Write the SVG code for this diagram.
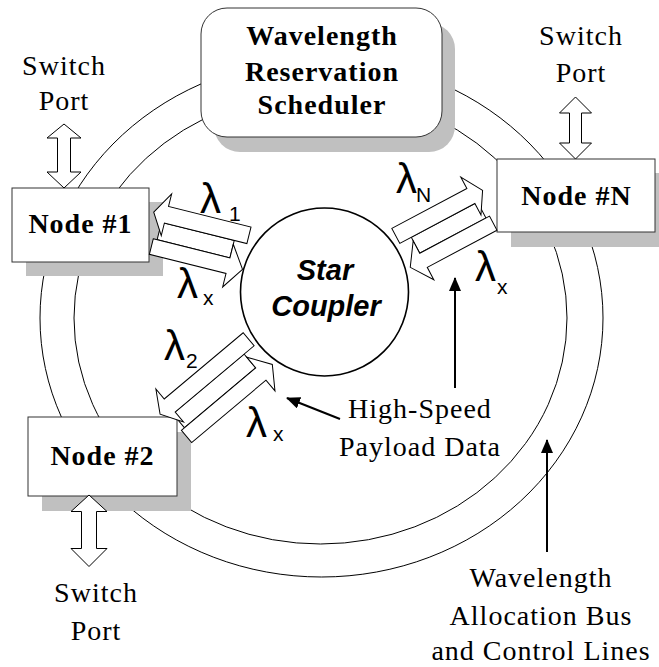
<svg xmlns="http://www.w3.org/2000/svg" width="659" height="667" viewBox="0 0 659 667">
  <style>
    .ring { fill: none; stroke: #000; stroke-width: 1; }
    .shadow { fill: #c0c0c0; }
    .box { fill: #fff; stroke: #333; stroke-width: 1; }
    .blk { fill: #fff; stroke: #000; stroke-width: 1; stroke-linejoin: miter; }
    .txt { font-family: "Liberation Serif", "Times New Roman", serif; font-size: 28px; letter-spacing: 1px; fill: #000; text-anchor: middle; }
    .bold { font-weight: bold; }
    .lam { font-family: "Liberation Sans", Arial, sans-serif; font-size: 42px; fill: #000; }
    .sub { font-family: "Liberation Sans", Arial, sans-serif; font-size: 21px; fill: #000; }
    .ptr { stroke: #000; stroke-width: 2; fill: none; marker-end: url(#tri); }
  </style>
  <defs>
    <marker id="tri" viewBox="0 0 14 12" refX="13" refY="6" markerWidth="14" markerHeight="12" markerUnits="userSpaceOnUse" orient="auto">
      <path d="M0,0 L14,6 L0,12 z" fill="#000"/>
    </marker>
  </defs>

  <!-- allocation bus rings -->
  <g id="bus">
    <ellipse class="ring" cx="321.5" cy="318" rx="281.5" ry="259"/>
    <ellipse class="ring" cx="320.5" cy="318" rx="246.5" ry="226"/>
  </g>

  <!-- scheduler -->
  <g id="scheduler">
    <rect class="shadow" x="214" y="23" width="241" height="129" rx="26"/>
    <rect class="box" x="201" y="8" width="241" height="129" rx="26"/>
    <text class="txt bold" x="322" y="45">Wavelength</text>
    <text class="txt bold" x="322" y="81">Reservation</text>
    <text class="txt bold" x="322" y="114">Scheduler</text>
  </g>

  <!-- nodes -->
  <g id="node1">
    <rect class="shadow" x="26" y="202" width="137" height="74"/>
    <rect class="box" x="12" y="188" width="137" height="74"/>
    <text class="txt bold" x="80.5" y="233">Node #1</text>
  </g>
  <g id="nodeN">
    <rect class="shadow" x="511" y="173" width="158" height="74"/>
    <rect class="box" x="497" y="159" width="158" height="73"/>
    <text class="txt bold" x="576.5" y="205">Node #N</text>
  </g>
  <g id="node2">
    <rect class="shadow" x="42" y="432" width="149" height="79"/>
    <rect class="box" x="28" y="417" width="149" height="79"/>
    <text class="txt bold" x="102.5" y="465">Node #2</text>
  </g>

  <!-- star coupler -->
  <g id="coupler">
    <circle cx="324.5" cy="292" r="84" fill="#fff" stroke="#000" stroke-width="1.6"/>
    <text x="325" y="280" text-anchor="middle" font-family="Liberation Sans, Arial, sans-serif" font-size="29" font-weight="bold" font-style="italic">Star</text>
    <text x="326" y="316" text-anchor="middle" font-family="Liberation Sans, Arial, sans-serif" font-size="29" font-weight="bold" font-style="italic">Coupler</text>
  </g>

  <!-- connectors -->
  <g id="connectors">
    <!-- node 1 wavelength pair -->
    <g transform="translate(153,215) rotate(14)">
      <rect class="blk" x="10" y="5" width="75" height="18"/>
      <polygon class="blk" points="0,-3 13,-25 13,-12 98,-12 98,5 13,5 13,18"/>
      <polygon class="blk" points="6,23 85,23 85,9 100,31 85,53 85,39 6,39"/>
    </g>
    <!-- node N wavelength pair -->
    <g transform="translate(484,193) rotate(152) scale(1,-1)">
      <rect class="blk" x="10" y="5" width="75" height="18"/>
      <polygon class="blk" points="0,-3 13,-25 13,-12 98,-12 98,5 13,5 13,18"/>
      <polygon class="blk" points="6,23 85,23 85,9 100,31 85,53 85,39 6,39"/>
    </g>
    <!-- node 2 wavelength pair -->
    <g transform="translate(162,416.5) rotate(-40)">
      <rect class="blk" x="10" y="5" width="93" height="18"/>
      <polygon class="blk" points="0,-3 13,-25 13,-12 116,-12 116,5 13,5 13,18"/>
      <polygon class="blk" points="6,23 103,23 103,9 118,31 103,53 103,39 6,39"/>
    </g>

    <!-- switch port links -->
    <polygon class="blk" points="64,124 81,138 70.5,138 70.5,172 81,172 64,188 47,172 57.5,172 57.5,138 47,138"/>
    <polygon class="blk" points="575.5,97 591.5,113 581.5,113 581.5,143 591.5,143 575.5,159 559.5,143 569.5,143 569.5,113 559.5,113"/>
    <polygon class="blk" points="89,495 107,511.5 96.5,511.5 96.5,548.5 107,548.5 89,566.5 71,548.5 81.5,548.5 81.5,511.5 71,511.5"/>

    <!-- callout pointers -->
    <line class="ptr" x1="340" y1="419" x2="287" y2="398"/>
    <line class="ptr" x1="455" y1="388" x2="455" y2="278"/>
    <line class="ptr" x1="547" y1="552" x2="547" y2="440"/>
  </g>

  <!-- wavelength labels -->
  <g id="wavelengths">
    <text class="lam" x="200" y="213">λ</text><text class="sub" x="229" y="221">1</text>
    <text class="lam" x="177" y="298">λ</text><text class="sub" x="203" y="305">x</text>
    <text class="lam" x="396" y="193">λ</text><text class="sub" x="416" y="202">N</text>
    <text class="lam" x="475" y="281">λ</text><text class="sub" x="497" y="294">x</text>
    <text class="lam" x="164" y="360">λ</text><text class="sub" x="186" y="368">2</text>
    <text class="lam" x="246" y="437">λ</text><text class="sub" x="273" y="441">x</text>
  </g>

  <!-- annotations -->
  <g id="annotations">
    <text class="txt" x="64" y="75">Switch</text>
    <text class="txt" x="64" y="110">Port</text>
    <text class="txt" x="581" y="45">Switch</text>
    <text class="txt" x="581" y="82">Port</text>
    <text class="txt" x="96" y="602">Switch</text>
    <text class="txt" x="96" y="640">Port</text>
    <text class="txt" x="420" y="418">High-Speed</text>
    <text class="txt" x="420" y="456">Payload Data</text>
    <text class="txt" x="541" y="587">Wavelength</text>
    <text class="txt" x="541" y="625">Allocation Bus</text>
    <text class="txt" x="541" y="660">and Control Lines</text>
  </g>
</svg>
